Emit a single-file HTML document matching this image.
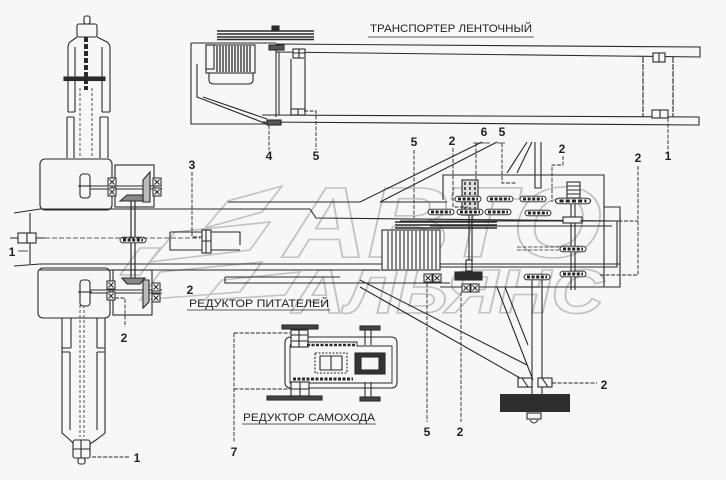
<!DOCTYPE html>
<html><head><meta charset="utf-8">
<style>
html,body{margin:0;padding:0;background:#f7f7f7;}
svg{display:block;}
text{font-family:"Liberation Sans","DejaVu Sans",sans-serif;}
</style></head><body>
<svg width="726" height="480" viewBox="0 0 726 480" xmlns="http://www.w3.org/2000/svg">
<defs>
 <g id="sp">
  <rect x="-13" y="-2.8" width="26" height="5.6" rx="2.8" fill="#f7f7f7" stroke="#222" stroke-width="0.9"/>
  <line x1="-10" y1="0" x2="10" y2="0" stroke="#222" stroke-width="3" stroke-dasharray="3 1.6"/>
 </g>
 <g id="br">
  <rect x="-4" y="-4" width="8" height="8" fill="#f7f7f7" stroke="#222" stroke-width="1"/>
  <path d="M-2.5,-2.5 L2.5,2.5 M2.5,-2.5 L-2.5,2.5" stroke="#222" stroke-width="1"/>
 </g>
</defs>
<rect width="726" height="480" fill="#f7f7f7"/>

<!-- watermark -->
<g fill="none" stroke="#c2c2c2" stroke-width="1.6">
 <text x="284" y="257" font-size="100" font-weight="bold" font-style="italic" textLength="318" lengthAdjust="spacingAndGlyphs">АВТО</text>
 <text x="292" y="313" font-size="62" font-weight="bold" font-style="italic" textLength="312" lengthAdjust="spacingAndGlyphs">АЛЬЯНС</text>
 <polygon points="205,228 262,212 282,186 228,201"/>
 <polygon points="150,262 175,232 270,222 250,250"/>
 <polygon points="140,300 160,272 262,262 240,292"/>
 <polygon points="205,300 222,280 300,272 285,295"/>
 <polygon points="120,275 140,248 160,248 140,275"/>
</g>

<g stroke="#2a2a2a" stroke-width="1.1" fill="none">
<!-- ===== top conveyor ===== -->
 <path d="M191,43 H276 M191,43 V124 H267"/>
 <path d="M197,64 V97 L267,124"/>
 <path d="M203,97 L267,119"/>
 <path d="M276,44 L700,47 V57 L276,52"/>
 <path d="M262,115 L699,117 V125 L262,122"/>
 <path d="M276,44 V117 M279,52 V115"/>
 <path d="M291,59 V109 M305,59 V110"/>
 <path d="M643,57 V117 M673,57 V117" stroke-dasharray="6 1"/>
 <!-- motor -->
 <rect x="206" y="45" width="49" height="28" fill="#f7f7f7"/>
 <path d="M209,73 V80 Q209,84 214,84 H248 Q253,84 253,80 V73"/>
 <rect x="206" y="45" width="8" height="24" fill="#f7f7f7"/>
 <path d="M217,46 V72 M220,46 V72 M223,46 V72 M226,46 V72 M229,46 V72 M232,46 V72 M235,46 V72 M238,46 V72 M241,46 V72 M244,46 V72 M247,46 V72 M250,46 V72" stroke-width="1.3"/>
 <!-- pulley -->
 <path d="M217,31 H314 M217,34 H314 M217,37 H314 M217,39.5 H314" stroke-width="1.6"/>
 <rect x="272" y="26" width="7" height="4" fill="#2a2a2a"/>
 <rect x="269" y="45" width="15" height="5" fill="#555"/>
 <rect x="293" y="49" width="12" height="9" fill="#f7f7f7"/>
 <path d="M293,53 H305 M299,49 V58"/>
 <rect x="291" y="109" width="14" height="6" fill="#f7f7f7"/>
 <path d="M298,109 V115"/>
 <rect x="267" y="120" width="14" height="5" fill="#555"/>
 <rect x="653" y="53" width="12" height="9" fill="#f7f7f7"/>
 <path d="M659,53 V62"/>
 <rect x="652" y="110" width="16" height="8" fill="#f7f7f7"/>
 <path d="M660,110 V118"/>
 <!-- leaders -->
 <path d="M269,125 V150 M304,111 H316 V150 M668,118 V150" stroke-dasharray="4 1.5" stroke-width="0.9"/>
 <path d="M368,37 H534" stroke-width="0.8"/>

<!-- ===== left wheels ===== -->
 <!-- top wheel -->
 <path d="M77,37 L70,42 Q68,44 68,48 V112 M97,37 L107,42 Q110,44 110,48 V112"/>
 <path d="M75,47 V112 M102,47 V112 M68,112 H75 M102,112 H110"/>
 <path d="M67,117 V158 M74,117 V158 M100,117 V158 M108,117 V158 M67,117 H74 M100,117 H108"/>
 <path d="M80,88 V158 M92,88 V158" stroke-dasharray="3 2" stroke-width="0.8"/>
 <rect x="77" y="24" width="20" height="13" rx="2" fill="#f7f7f7"/>
 <rect x="84" y="16" width="6" height="8" rx="2"/>
 <path d="M86,37 V90" stroke-width="4" stroke-dasharray="5 2"/>
 <rect x="64" y="77" width="41" height="3.5" fill="#2a2a2a"/>
 <!-- bottom wheel -->
 <path d="M62,318 V433 L70,440 L75,445 M105,318 V433 L96,440 L88,445"/>
 <path d="M71,318 V348 M97,318 V348 M70,352 V430 M97,352 V430 M62,348 H71 M97,348 H105 M62,352 H70 M97,352 H105"/>
 <path d="M80,305 V437 M84,305 V437" stroke-dasharray="3 2" stroke-width="0.8"/>
 <rect x="73" y="440" width="17" height="18" rx="2" fill="#f7f7f7"/>
 <path d="M73,449 H90 M81,440 V458"/>
 <rect x="78" y="458" width="7" height="6" rx="2"/>
 <!-- hub boxes -->
 <rect x="40" y="159" width="72" height="51" rx="5"/>
 <rect x="38" y="268" width="72" height="50" rx="5"/>
 <rect x="115" y="165" width="39" height="42"/>
 <rect x="113" y="270" width="39" height="45"/>
 <!-- shafts -->
 <path d="M86,186 H162 M86,189 H162"/>
 <path d="M80,290 H162 M80,293 H162"/>
 <rect x="80" y="174" width="10" height="24" rx="3" fill="#f7f7f7"/>
 <path d="M78,186 H92"/>
 <rect x="80" y="280" width="10" height="26" rx="3" fill="#f7f7f7"/>
 <path d="M78,292 H92"/>
 <use href="#br" x="112" y="182"/><use href="#br" x="112" y="192"/>
 <use href="#br" x="157" y="182"/><use href="#br" x="157" y="192"/>
 <use href="#br" x="111" y="285"/><use href="#br" x="111" y="296"/>
 <use href="#br" x="156" y="287"/><use href="#br" x="156" y="298"/>
 <path d="M143,180 L150,172 V202 L143,202 Z" fill="#bbb"/>
 <path d="M120,201 L127,195 H143 V201 Z" fill="#888"/>
 <path d="M122,278 H145 L140,284 H127 Z" fill="#888"/>
 <path d="M143,280 V308 L149,302 V280 Z" fill="#bbb"/>
 <path d="M131,201 V278 M135,201 V278" stroke-width="1.2"/>
 <use href="#sp" x="133" y="240"/>
 <!-- main frame -->
 <path d="M14,213 L40,209 H310 L316,218 L620,221"/>
 <path d="M14,266 L40,264 H620"/>
 <path d="M40,270 H380"/>
 <path d="M228,202 H360 M380,202 H447"/>
 <path d="M225,277 H340 M225,277 V283 H450"/>
 <path d="M30,213 V264"/>
 <rect x="18" y="233" width="9" height="10" fill="#f7f7f7"/>
 <rect x="27" y="233" width="9" height="10" fill="#f7f7f7"/>
 <path d="M36,238 H45 M10,238 H18"/>
 <path d="M45,238 H200" stroke-dasharray="5 2" stroke-width="0.8"/>
 <path d="M18,251 H28" stroke-width="0.8"/>
 <!-- item 3 -->
 <path d="M170,232 H240 V245 M170,232 V250 H240"/>
 <rect x="202" y="230" width="9" height="23" fill="#f7f7f7"/>
 <path d="M206,230 V253 M202,241 H211"/>
 <path d="M192,172 V237 H202" stroke-dasharray="4 1.5" stroke-width="0.9"/>
 <!-- leader 2 lower -->
 <path d="M115,298 H125 V327" stroke-dasharray="4 1.5" stroke-width="0.9"/>
 <path d="M92,457 H130" stroke-dasharray="4 1.5" stroke-width="0.9"/>
 <path d="M187,310 H330" stroke-width="0.8"/>

<!-- ===== right assembly ===== -->
 <path d="M443,200 V175 H604 V287"/>
 <path d="M604,207 H620 V287 H440"/>
 <path d="M400,221 H617 V267 H430"/>
 <path d="M430,226 H612"/>
 <path d="M517,247 H560 M517,250 H560" stroke-dasharray="4 1.5" stroke-width="0.8"/>
 <path d="M395,222 H497 M395,225 H497 M395,228 H497" stroke-width="1.5"/>
 <!-- roller -->
 <rect x="382" y="230" width="58" height="40" fill="#f7f7f7"/>
 <path d="M388,231 V269 M392,231 V269 M396,231 V269 M400,231 V269 M404,231 V269 M408,231 V269 M412,231 V269 M416,231 V269 M420,231 V269 M424,231 V269 M428,231 V269 M432,231 V269 M436,231 V269"/>
 <!-- upper arms -->
 <path d="M360,202 L482,142 M380,202 L497,142"/>
 <path d="M507,173 L527,142 M517,173 L532,142"/>
 <path d="M535,142 V188 H541 V142"/>
 <!-- gear shafts -->
 <rect x="462" y="180" width="16" height="35" fill="#ddd"/>
 <path d="M465,182 V214 M470,182 V214 M475,182 V214" stroke-dasharray="3 2" stroke-width="1.5"/>
 <path d="M469,215 V262 M472,215 V262"/>
 <path d="M571,182 V290 M575,182 V290"/>
 <rect x="567" y="182" width="13" height="16" fill="#f7f7f7"/>
 <path d="M567,186 H580 M567,190 H580 M567,194 H580"/>
 <rect x="563" y="217" width="19" height="6" fill="#f7f7f7"/>
 <!-- lower -->
 <rect x="466" y="260" width="6" height="11" fill="#f7f7f7"/>
 <path d="M466,264 H472 M466,267 H472"/>
 <rect x="455" y="272" width="27" height="8" fill="#2a2a2a"/>
 <use href="#br" x="466" y="288"/><use href="#br" x="475" y="288"/>
 <use href="#br" x="428" y="278"/><use href="#br" x="437" y="278"/>
 <!-- lower arms -->
 <path d="M360,280 L527,365 M360,287 L520,378"/>
 <path d="M497,287 L533,380 M505,287 L528,345"/>
 <path d="M532,277 V395 M542,277 V395"/>
 <rect x="518" y="378" width="14" height="9" fill="#f7f7f7"/>
 <rect x="538" y="378" width="14" height="9" fill="#f7f7f7"/>
 <path d="M522,378 L528,387 M542,378 L548,387"/>
 <rect x="500" y="394" width="70" height="18" fill="#2e2e2e" stroke="none"/>
 <rect x="527" y="413" width="14" height="6" fill="#f7f7f7"/>
 <path d="M530,420 Q534,426 538,420"/>
 <!-- leaders -->
 <path d="M414,150 V218 M453,148 V207 H468 M476,143 V180 M502,143 V183 H517 M563,156 V165 H552 V202" stroke-dasharray="4 1.5" stroke-width="0.9"/>
 <path d="M473,143 L490,143 M497,143 L505,143" stroke-width="0.8"/>
 <path d="M638,166 V275 H600 M580,221 H638" stroke-dasharray="4 1.5" stroke-width="0.9"/>
 <path d="M427,283 V422 M461,292 V422" stroke-dasharray="4 1.5" stroke-width="0.9"/>
 <path d="M552,383 H597" stroke-dasharray="4 1.5" stroke-width="0.9"/>

<!-- ===== reductor samokhoda ===== -->
 <path d="M291,337 H391 Q397,337 397,343 V382 Q397,388 391,388 H291 Q285,388 285,382 V343 Q285,337 291,337 Z"/>
 <path d="M295,342 H357 V346 H392 V383 H290 V347 Q290,342 295,342 Z" stroke-width="0.9"/>
 <rect x="282" y="325" width="36" height="4" fill="#444"/>
 <rect x="291" y="330" width="17" height="17" fill="#f7f7f7"/>
 <path d="M291,335 H308 M291,341 H308 M299,330 V347"/>
 <path d="M307,345 H355" stroke-width="2.5" stroke-dasharray="3 1.5"/>
 <rect x="315" y="353" width="32" height="20" stroke-dasharray="2 1.5"/>
 <path d="M320,356 H342 V370 H320 Z M331,356 V370"/>
 <rect x="355" y="353" width="30" height="21" fill="#333"/>
 <rect x="361" y="357" width="18" height="13" fill="#f7f7f7"/>
 <path d="M293,379 H353" stroke-width="3" stroke-dasharray="3 1.5"/>
 <rect x="291" y="382" width="18" height="14" fill="#f7f7f7"/>
 <path d="M291,389 H309 M300,382 V396"/>
 <rect x="267" y="396" width="55" height="4" fill="#444"/>
 <path d="M365,327 V345 M371,327 V345 M365,382 V400 M371,382 V400"/>
 <rect x="360" y="326" width="20" height="4" fill="#444"/>
 <rect x="360" y="397" width="20" height="4" fill="#444"/>
 <path d="M234,333 H290 M234,389 H290 M234,333 V443" stroke-dasharray="4 1.5" stroke-width="0.9"/>
 <path d="M242,424 H376" stroke-width="0.8"/>
</g>

<!-- sprockets -->
<use href="#sp" x="468" y="199"/>
<use href="#sp" x="470" y="212"/>
<use href="#sp" x="441" y="212"/>
<use href="#sp" x="500" y="199"/>
<use href="#sp" x="498" y="212"/>
<use href="#sp" x="533" y="199"/>
<use href="#sp" x="538" y="213"/>
<use href="#sp" transform="translate(573 201) scale(1.35 1)"/>
<use href="#sp" x="573" y="249"/>
<use href="#sp" x="573" y="274"/>
<use href="#sp" x="537" y="277"/>

<!-- labels -->
<g font-size="12" font-weight="bold" fill="#222" text-anchor="middle">
 <text x="269" y="160">4</text>
 <text x="316" y="160">5</text>
 <text x="668" y="160">1</text>
 <text x="192" y="169">3</text>
 <text x="414" y="146">5</text>
 <text x="452" y="145">2</text>
 <text x="484" y="136">6</text>
 <text x="502" y="136">5</text>
 <text x="562" y="153">2</text>
 <text x="638" y="162">2</text>
 <text x="12" y="256">1</text>
 <text x="190" y="294">2</text>
 <text x="124" y="342">2</text>
 <text x="234" y="456">7</text>
 <text x="427" y="436">5</text>
 <text x="460" y="436">2</text>
 <text x="604" y="389">2</text>
 <text x="137" y="462">1</text>
</g>
<g font-size="11" fill="#222">
 <text x="370" y="32" textLength="162" lengthAdjust="spacingAndGlyphs">ТРАНСПОРТЕР ЛЕНТОЧНЫЙ</text>
 <text x="189" y="307" textLength="140" lengthAdjust="spacingAndGlyphs">РЕДУКТОР ПИТАТЕЛЕЙ</text>
 <text x="243" y="421" textLength="132" lengthAdjust="spacingAndGlyphs">РЕДУКТОР САМОХОДА</text>
</g>
</svg>
</body></html>
